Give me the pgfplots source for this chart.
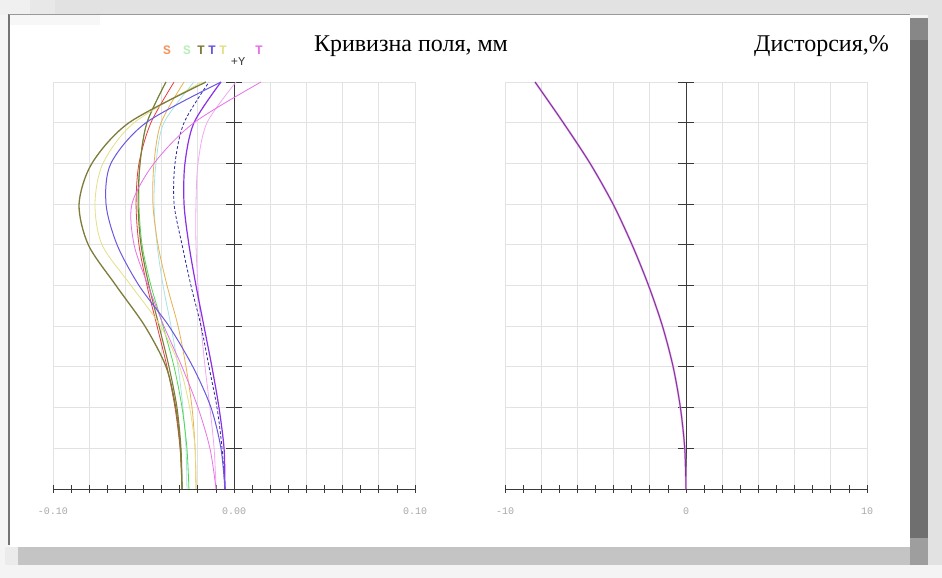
\documentclass[border=0pt]{standalone}
\usepackage{fontspec}
\setmainfont{Liberation Serif}
\newfontfamily\monofont{Liberation Mono}
\usepackage{pgfplots}
\pgfplotsset{compat=1.18}

\definecolor{pagebg}{HTML}{F4F4F4}
\definecolor{topstrip}{HTML}{E2E2E2}
\definecolor{darkbar}{HTML}{6F6F6F}
\definecolor{midbar}{HTML}{C4C4C4}
\definecolor{gridc}{HTML}{E2E2E2}
\definecolor{axisc}{HTML}{3A3A3A}
\definecolor{labc}{HTML}{A8A8A8}
% wavelength colours
\definecolor{cOlive}{HTML}{7E7C3A}
\definecolor{cPaleY}{HTML}{E4E088}
\definecolor{cBlue}{HTML}{6A58E0}
\definecolor{cMag}{HTML}{E870E8}
\definecolor{cRed}{HTML}{E83C3C}
\definecolor{cGreen}{HTML}{50D850}
\definecolor{cOrange}{HTML}{EAB050}
\definecolor{cNavy}{HTML}{2A2AA0}
\definecolor{cPurple}{HTML}{8A30E8}
\definecolor{cPink}{HTML}{F2A8F2}
\definecolor{cCyan}{HTML}{A8E4E4}
\definecolor{cDist}{HTML}{7A3A9A}

\pgfplotsset{
  zmx/.style={
    scale only axis, width=362pt, height=407pt,
    ymin=0, ymax=1,
    axis x line*=bottom, axis y line*=left,
    y axis line style={draw=none},
    ytick={0,0.1,0.2,0.3,0.4,0.5,0.6,0.7,0.8,0.9,1},
    ytick style={draw=none}, yticklabels={},
    xmajorgrids, ymajorgrids,
    grid style={gridc, line width=0.8pt},
    tick align=center, major tick length=8pt, minor tick length=8pt,
    minor x tick num=1,
    x axis line style={axisc, line width=0.9pt},
    xtick style={axisc, line width=0.8pt},
    xticklabel style={font=\monofont\fontsize{10}{10}\selectfont, text=labc, yshift=-11pt},
    clip=false,
  },
  fc/.style={smooth, line width=0.8pt},
}

\begin{document}
\begin{tikzpicture}[x=1pt,y=1pt]
\useasboundingbox (0,0) rectangle (942,578);
% window frame
\fill[pagebg] (0,0) rectangle (942,578);
\fill[topstrip] (0,563) rectangle (942,578);
\fill[black!6] (0,563) rectangle (30,578);
\fill[black!9] (30,563) rectangle (55,578);
\fill[topstrip] (928,13) rectangle (942,578);
\fill[midbar] (18,13) rectangle (910,31);
\fill[black!8] (5,13) rectangle (18,31);
\fill[darkbar] (910,23) rectangle (928,560);
\fill[black!47] (910,538) rectangle (928,560);
\fill[black!38] (910,13) rectangle (928,40);
\fill[white] (10,31) rectangle (910,563);
\fill[black!3] (10,553) rectangle (100,563);
\draw[black!55, line width=1.4pt] (9,33) -- (9,564);
\draw[black!40, line width=0.8pt] (9,563.5) -- (910,563.5);

% titles
\node[anchor=base, inner sep=0pt, font=\fontsize{24}{24}\selectfont] at (411,526) {Кривизна поля, мм};
\node[anchor=base east, inner sep=0pt, font=\fontsize{24}{24}\selectfont] at (889,526) {Дисторсия,\%};

% series key
\begin{scope}[font=\monofont\bfseries\fontsize{13}{13}\selectfont]
\node[anchor=base, text=cOrange!70!red!80] at (167,523) {S};
\node[anchor=base, text=cGreen!40] at (187,523) {S};
\node[anchor=base, text=cOlive] at (201,523) {T};
\node[anchor=base, text=cBlue] at (212,523) {T};
\node[anchor=base, text=cPaleY] at (223,523) {T};
\node[anchor=base, text=cMag] at (259,523) {T};
\node[anchor=base, text=axisc, font=\monofont\fontsize{12}{12}\selectfont] at (238,512) {+Y};
\end{scope}

% ---------------- field curvature ----------------
\begin{axis}[zmx, at={(53pt,89pt)}, anchor=south west,
  xmin=-0.1, xmax=0.1,
  xtick={-0.1,-0.08,-0.06,-0.04,-0.02,0,0.02,0.04,0.06,0.08,0.1},
  xticklabels={-0.10,,,,,0.00,,,,,0.10}]
\draw[axisc, line width=0.9pt] (axis cs:0,0) -- (axis cs:0,1);
\pgfplotsinvokeforeach{0.1,0.2,0.3,0.4,0.5,0.6,0.7,0.8,0.9,1}{
  \draw[axisc, line width=0.9pt] ([xshift=-8pt]axis cs:0,#1) -- ([xshift=8pt]axis cs:0,#1);
}
% sagittal
\addplot[fc, cCyan] coordinates {(-0.0260,0) (-0.0265,0.1) (-0.0282,0.2) (-0.0309,0.3) (-0.0348,0.4) (-0.0392,0.5) (-0.0425,0.6) (-0.0442,0.7) (-0.0431,0.8) (-0.0387,0.9) (-0.0221,1)};
\addplot[fc, cPink] coordinates {(-0.0099,0) (-0.0110,0.1) (-0.0133,0.2) (-0.0160,0.3) (-0.0182,0.4) (-0.0199,0.5) (-0.0210,0.6) (-0.0210,0.7) (-0.0199,0.8) (-0.0149,0.9) (0.0011,1)};
\addplot[fc, cOrange] coordinates {(-0.0210,0) (-0.0215,0.1) (-0.0232,0.2) (-0.0265,0.3) (-0.0309,0.4) (-0.0370,0.5) (-0.0420,0.6) (-0.0448,0.7) (-0.0442,0.8) (-0.0403,0.9) (-0.0276,1)};
\addplot[fc, cGreen] coordinates {(-0.0249,0) (-0.0260,0.1) (-0.0287,0.2) (-0.0331,0.3) (-0.0392,0.4) (-0.0459,0.5) (-0.0508,0.6) (-0.0525,0.7) (-0.0519,0.8) (-0.0481,0.9) (-0.0376,1)};
\addplot[fc, cRed] coordinates {(-0.0287,0) (-0.0298,0.1) (-0.0326,0.2) (-0.0370,0.3) (-0.0425,0.4) (-0.0481,0.5) (-0.0525,0.6) (-0.0541,0.7) (-0.0525,0.8) (-0.0459,0.9) (-0.0331,1)};
\addplot[fc, cOlive, line width=1.1pt] coordinates {(-0.0287,0) (-0.0293,0.1) (-0.0315,0.2) (-0.0359,0.3) (-0.0414,0.4) (-0.0470,0.5) (-0.0514,0.6) (-0.0530,0.7) (-0.0519,0.8) (-0.0481,0.9) (-0.0376,1)};
\addplot[fc, cNavy, densely dashed] coordinates {(-0.0050,0) (-0.0066,0.1) (-0.0094,0.2) (-0.0138,0.3) (-0.0182,0.4) (-0.0238,0.5) (-0.0287,0.6) (-0.0331,0.7) (-0.0326,0.8) (-0.0276,0.9) (-0.0138,1)};
\addplot[fc, cPurple, line width=1.2pt] coordinates {(-0.0050,0) (-0.0055,0.1) (-0.0083,0.2) (-0.0122,0.3) (-0.0166,0.4) (-0.0210,0.5) (-0.0249,0.6) (-0.0276,0.7) (-0.0271,0.8) (-0.0221,0.9) (-0.0072,1)};
% tangential
\addplot[fc, cPaleY] coordinates {(-0.0210,0) (-0.0215,0.1) (-0.0245,0.2) (-0.0300,0.3) (-0.0405,0.4) (-0.0569,0.5) (-0.0729,0.6) (-0.0768,0.7) (-0.0724,0.8) (-0.0552,0.9) (-0.0177,1)};
\addplot[fc, cMag] coordinates {(-0.0099,0) (-0.0133,0.1) (-0.0199,0.2) (-0.0287,0.3) (-0.0387,0.4) (-0.0475,0.5) (-0.0552,0.6) (-0.0564,0.7) (-0.0442,0.8) (-0.0221,0.9) (0.0149,1)};
\addplot[fc, cBlue, line width=1pt] coordinates {(-0.0050,0) (-0.0072,0.1) (-0.0127,0.2) (-0.0227,0.3) (-0.0359,0.4) (-0.0525,0.5) (-0.0646,0.6) (-0.0707,0.7) (-0.0680,0.8) (-0.0486,0.9) (-0.0072,1)};
\addplot[fc, cOlive, line width=1.3pt] coordinates {(-0.0287,0) (-0.0296,0.1) (-0.0322,0.2) (-0.0375,0.3) (-0.0492,0.4) (-0.0652,0.5) (-0.0805,0.6) (-0.0856,0.7) (-0.0785,0.8) (-0.0580,0.9) (-0.0155,1)};
\end{axis}

% ---------------- distortion ----------------
\begin{axis}[zmx, at={(505pt,89pt)}, anchor=south west,
  xmin=-10, xmax=10,
  xtick={-10,-8,-6,-4,-2,0,2,4,6,8,10},
  xticklabels={-10,,,,,0,,,,,10}]
\draw[axisc, line width=0.9pt] (axis cs:0,0) -- (axis cs:0,1);
\pgfplotsinvokeforeach{0.1,0.2,0.3,0.4,0.5,0.6,0.7,0.8,0.9,1}{
  \draw[axisc, line width=0.9pt] ([xshift=-8pt]axis cs:0,#1) -- ([xshift=8pt]axis cs:0,#1);
}
\addplot[smooth, cPink, line width=2pt] coordinates {(0,0) (-0.07,0.1) (-0.31,0.2) (-0.71,0.3) (-1.30,0.4) (-2.07,0.5) (-2.98,0.6) (-4.03,0.7) (-5.30,0.8) (-6.78,0.9) (-8.34,1)};
\addplot[smooth, cDist, line width=1pt] coordinates {(0,0) (-0.07,0.1) (-0.31,0.2) (-0.71,0.3) (-1.30,0.4) (-2.07,0.5) (-2.98,0.6) (-4.03,0.7) (-5.30,0.8) (-6.78,0.9) (-8.34,1)};
\end{axis}
\end{tikzpicture}
\end{document}
